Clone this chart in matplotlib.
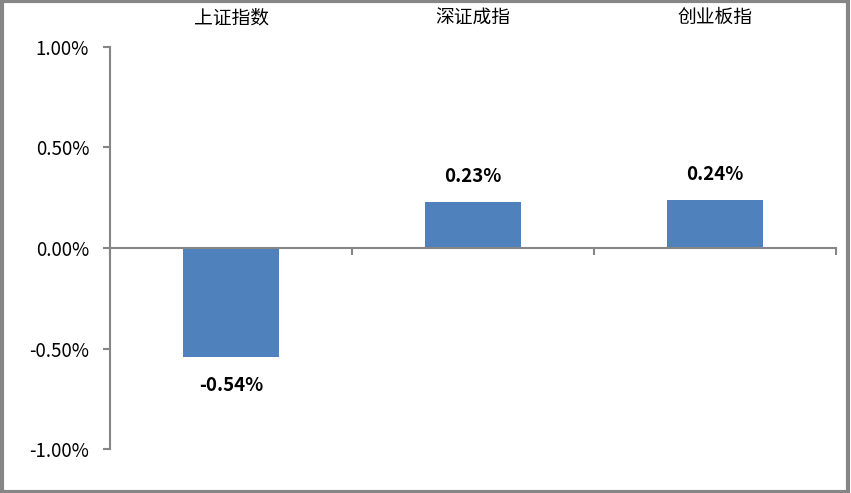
import matplotlib
matplotlib.use("Agg")
import matplotlib.pyplot as plt
import numpy as np
from matplotlib.ticker import FuncFormatter

plt.rcParams['font.family'] = ['Noto Sans CJK SC', 'DejaVu Sans']

categories = ['上证指数', '深证成指', '创业板指']
changes = [-0.54, 0.23, 0.24]  # percent
yticks = [-1.0, -0.5, 0.0, 0.5, 1.0]

axis_gray = '#868686'
bar_blue = '#4F81BD'

fig = plt.figure(figsize=(8.51, 4.93), dpi=100)
ax = fig.add_axes([0.1293, 0.0892, 0.8531, 0.8155])

x = np.arange(len(categories))
ax.bar(x, changes, width=0.4, color=bar_blue, zorder=2)

ax.set_xlim(-0.5, len(categories) - 0.5)
ax.set_ylim(-1.0, 1.0)
ax.set_yticks(yticks)
ax.yaxis.set_major_formatter(FuncFormatter(lambda v, p: '%.2f%%' % v))

# x axis sits at zero, ticks on category boundaries
ax.spines['bottom'].set_position(('data', 0))
ax.spines['top'].set_visible(False)
ax.spines['right'].set_visible(False)
for s in ['left', 'bottom']:
    ax.spines[s].set_color(axis_gray)
    ax.spines[s].set_linewidth(1.5)
ax.set_xticks(np.arange(len(categories) + 1) - 0.5)
ax.set_xticklabels([])
ax.tick_params(axis='x', direction='out', length=5, color=axis_gray, width=1.5)
ax.tick_params(axis='y', direction='out', length=5, color=axis_gray, width=1.5,
               labelsize=13.5, pad=10)

# category names along the top
for i, name in enumerate(categories):
    ax.annotate(name, (i, 1.0), xytext=(0, 21), textcoords='offset points',
                ha='center', va='center', fontsize=13.5)

for i, v in enumerate(changes):
    if v >= 0:
        ax.annotate('%.2f%%' % v, (i, v), xytext=(0, 18), textcoords='offset points',
                    ha='center', va='center', fontsize=13.5, fontweight='bold')
    else:
        ax.annotate('%.2f%%' % v, (i, v), xytext=(0, -21), textcoords='offset points',
                    ha='center', va='center', fontsize=13.5, fontweight='bold')

# gray frame around the picture
fig.patches.append(plt.Rectangle((0.002, 0.003), 0.995, 0.994, transform=fig.transFigure,
                                 fill=False, edgecolor=axis_gray, linewidth=3))

fig.savefig('out.png', dpi=100)
